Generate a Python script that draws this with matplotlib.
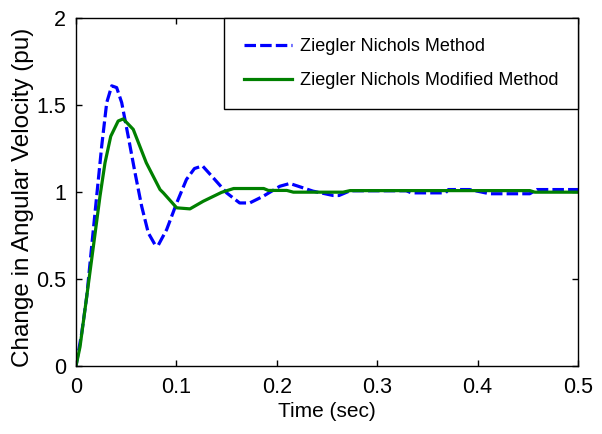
import matplotlib
matplotlib.use("Agg")
import matplotlib.pyplot as plt
from matplotlib import font_manager

# Data
t_zn = [0.0, 0.0057, 0.0107, 0.0156, 0.0206, 0.0256, 0.0306, 0.0356, 0.0405, 0.0455,
        0.052, 0.0588, 0.0654, 0.072, 0.0787, 0.0820, 0.0903, 0.1003, 0.110, 0.1180,
        0.126, 0.1368, 0.150, 0.163, 0.173, 0.1866, 0.203, 0.213, 0.236, 0.256,
        0.262, 0.273, 0.329, 0.334, 0.368, 0.371, 0.392, 0.412, 0.452, 0.459, 0.5]
y_zn = [0.0, 0.19, 0.40, 0.687, 0.976, 1.264, 1.514, 1.61, 1.60, 1.514,
        1.32, 1.11, 0.918, 0.765, 0.697, 0.695, 0.784, 0.937, 1.072, 1.135,
        1.15, 1.081, 0.995, 0.937, 0.937, 0.976, 1.033, 1.049, 1.005, 0.98,
        0.98, 1.007, 1.007, 0.995, 0.995, 1.014, 1.014, 0.99, 0.99, 1.014, 1.014]

t_znm = [0.0, 0.004, 0.0107, 0.0173, 0.0239, 0.0289, 0.0346, 0.042, 0.047, 0.057,
         0.070, 0.0837, 0.087, 0.1003, 0.1135, 0.1268, 0.145, 0.157, 0.187, 0.1916,
         0.210, 0.2165, 0.266, 0.273, 0.395, 0.400, 0.452, 0.457, 0.5]
y_znm = [0.0, 0.11, 0.40, 0.687, 0.976, 1.168, 1.32, 1.408, 1.42, 1.36,
         1.168, 1.014, 0.995, 0.909, 0.903, 0.947, 0.998, 1.02, 1.02, 1.009,
         1.009, 0.999, 0.999, 1.008, 1.008, 1.008, 1.008, 0.999, 0.999]

x_ticks = [0, 0.1, 0.2, 0.3, 0.4, 0.5]
x_ticklabels = ["0", "0.1", "0.2", "0.3", "0.4", "0.5"]
y_ticks = [0, 0.5, 1, 1.5, 2]
y_ticklabels = ["0", "0.5", "1", "1.5", "2"]

labels = ["Ziegler Nichols Method", "Ziegler Nichols Modified Method"]
xlabel = "Time (sec)"
ylabel = "Change in Angular Velocity (pu)"

names = {f.name for f in font_manager.fontManager.ttflist}
normal = [n for n in ["Liberation Sans", "DejaVu Sans"] if n in names]

fig = plt.figure(figsize=(6.02, 4.34), dpi=100)
ax = fig.add_axes([76/602, 1 - 366/434, (578-76)/602, (366-18)/434])

ax.plot(t_zn, y_zn, color="#0000FF", linewidth=2.3, linestyle=(0, (3.6, 1.3)),
        label=labels[0])
ax.plot(t_znm, y_znm, color="#008000", linewidth=2.3, label=labels[1])

ax.set_xlim(0, 0.5)
ax.set_ylim(0, 2)
ax.set_xticks(x_ticks)
ax.set_xticklabels(x_ticklabels)
ax.set_yticks(y_ticks)
ax.set_yticklabels(y_ticklabels)
for lab in ax.get_xticklabels() + ax.get_yticklabels():
    lab.set_family(normal)
    lab.set_fontsize(15.5)
ax.tick_params(direction="in", length=4, width=1, top=True, right=True, pad=8)
ax.tick_params(axis="y", pad=7)
for s in ax.spines.values():
    s.set_linewidth(1.0)

ax.set_xlabel(xlabel, family=normal, fontsize=15, labelpad=3)
ax.set_ylabel(ylabel, family=normal, fontsize=17.5, labelpad=0)
ax.yaxis.set_label_coords(-0.084, 0.485)

leg = ax.legend(loc="upper right", borderaxespad=0, fancybox=False,
                edgecolor="black", framealpha=1, handlelength=2.7,
                handletextpad=0.4, borderpad=1.1, labelspacing=0.95,
                prop={"family": normal, "size": 13})
leg.get_frame().set_linewidth(1.0)

fig.savefig("out.png", dpi=100)
